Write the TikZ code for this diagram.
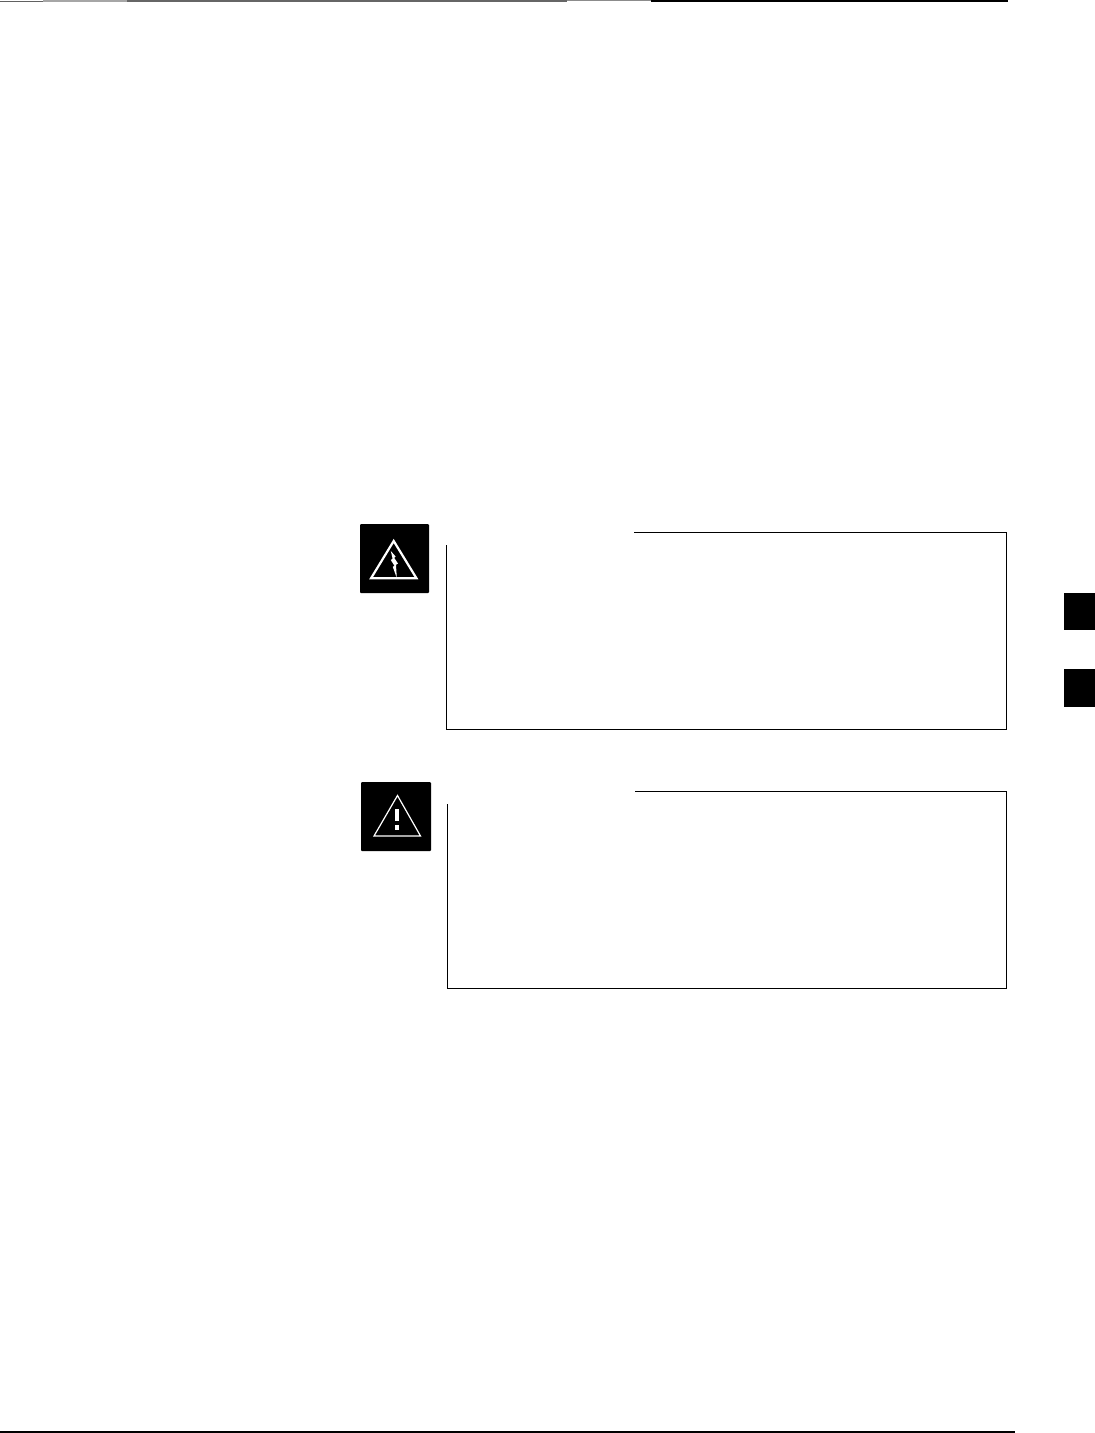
\documentclass[tikz,border=0pt]{standalone}
\tikzset{
  rule/.style={draw=black,line width=1.1pt},
  iconbox/.style={fill=black,rounded corners=1pt},
  hairline/.style={draw=black,line width=1pt},
}
\begin{document}
\begin{tikzpicture}[x=1pt,y=-1pt]
\useasboundingbox[fill=white] (0,0) rectangle (1095,1433);
% top rule
\fill[black!62] (0,0.6) rectangle (43,2.2);
\fill[black!35] (43,0) rectangle (127,1.7);
\fill[black!60] (127,0) rectangle (567,1.9);
\fill[black!45] (567,0) rectangle (651,1.2);
\fill[black] (651,0) rectangle (1008,1.7);
% bottom rule
\fill[black] (0,1431.2) rectangle (1015,1432.7);
% warning box
\draw[hairline] (446.5,545) -- (446.5,729.5) -- (1006.5,729.5) -- (1006.5,532.5) -- (634,532.5);
% caution box
\draw[hairline] (447.5,804) -- (447.5,988.5) -- (1006.5,988.5) -- (1006.5,791.5) -- (635,791.5);
% warning icon
\fill[iconbox] (360,524) rectangle (429,593);
\draw[white,line width=2.2pt,line join=miter] (393.7,541) -- (416.5,578.3) -- (371,578.3) -- cycle;
\fill[white] (390.8,551) -- (395.6,556.5) -- (394.2,557.8) -- (398,563.5) -- (396,564.8) -- (396.8,578)
  -- (392.8,566.8) -- (394.4,565.7) -- (390.8,560) -- (392.6,558.7) -- cycle;
% caution icon
\fill[iconbox] (361,782) rectangle (431,851);
\draw[white,line width=1.2pt,line join=miter] (397.5,795.5) -- (420.5,836) -- (374,836) -- cycle;
\fill[white] (395.2,808.5) rectangle (399.4,820.5);
\fill[white] (395.2,825) rectangle (399.4,830);
% side tabs
\fill[black] (1064,593) rectangle (1095,630);
\fill[black] (1064,669) rectangle (1095,707);
\end{tikzpicture}
\end{document}
